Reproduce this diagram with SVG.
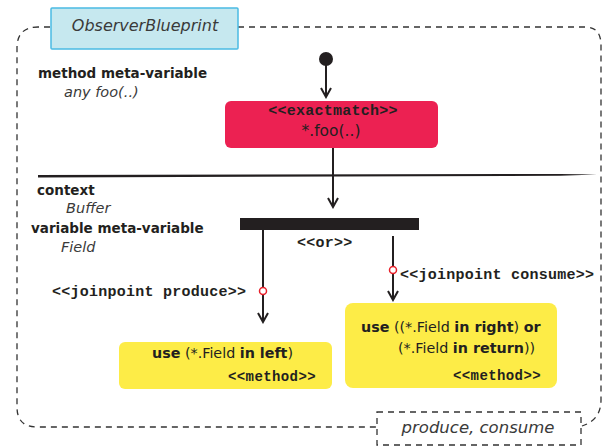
<svg xmlns="http://www.w3.org/2000/svg" width="604" height="447" viewBox="0 0 604 447">
<style>
.sans{font-family:"DejaVu Sans","Liberation Sans",sans-serif;fill:#231f20}
.b{font-weight:bold}
.it{font-style:italic;fill:#3a3a3a}
.mono{font-family:"Liberation Mono","Courier New",monospace;font-weight:bold;fill:#231f20;font-size:15px;letter-spacing:0.25px}
.mono.m{font-size:14px;letter-spacing:0.4px}
.dash{fill:none;stroke:#333;stroke-width:1.3;stroke-dasharray:6 5}
.edge{fill:none;stroke:#231f20;stroke-width:2}
.jp{fill:#fff;stroke:#e8202a;stroke-width:1.5}
</style>
<defs>
<marker id="arr" viewBox="0 0 12 12" refX="10" refY="6" markerWidth="12" markerHeight="12" markerUnits="userSpaceOnUse" orient="auto">
<path d="M1 1 L10 6 L1 11" fill="none" stroke="#231f20" stroke-width="2"/>
</marker>
</defs>
<rect width="604" height="447" fill="#fff"/>
<g id="frame">
<path class="dash" d="M50 27 L38 27 Q17 27 17 48 L17 407 Q17 427 37 427 L377 427"/>
<path class="dash" d="M238 27 L585 27 Q601 27 601 45 L601 400 Q601 420 582 426"/>
</g>
<g id="title">
<rect x="51" y="8" width="187" height="41" fill="#c6e8ef" stroke="#4bbbe3" stroke-width="1.5" rx="1"/>
<text class="sans it" x="145" y="31" font-size="16" text-anchor="middle">ObserverBlueprint</text>
</g>
<g id="labels">
<text class="sans b" x="38" y="78" font-size="13.5">method meta-variable</text>
<text class="sans it" x="64" y="97" font-size="14.5">any foo(..)</text>
<text class="sans b" x="37" y="195" font-size="13.5">context</text>
<text class="sans it" x="66" y="213" font-size="14.5">Buffer</text>
<text class="sans b" x="31" y="233" font-size="13.5">variable meta-variable</text>
<text class="sans it" x="61" y="252" font-size="14.5">Field</text>
</g>
<g id="separator">
<path d="M38 175 L560 174 L597 174.6 L560 175.8 L38 177.4 Z" fill="#231f20"/>
</g>
<g id="start">
<circle cx="326" cy="59" r="7" fill="#231f20"/>
</g>
<g id="exactmatch">
<rect x="225" y="101" width="213" height="47" rx="6" fill="#ec2152"/>
<text class="mono" x="333" y="114.5" text-anchor="middle">&lt;&lt;exactmatch&gt;&gt;</text>
<text class="sans" x="331" y="135.5" font-size="15.5" text-anchor="middle">*.foo(..)</text>
</g>
<g id="orbar">
<rect x="240" y="218" width="179" height="12" fill="#231f20"/>
<text class="mono" x="297" y="247">&lt;&lt;or&gt;&gt;</text>
</g>
<g id="useLeft">
<rect x="119" y="342" width="213" height="47" rx="6" fill="#fdec47"/>
<text class="sans" x="152" y="358" font-size="14.3"><tspan class="b">use</tspan> (*.Field <tspan class="b">in left</tspan>)</text>
<text class="mono m" x="316" y="381" text-anchor="end">&lt;&lt;method&gt;&gt;</text>
</g>
<g id="useRight">
<rect x="345" y="303" width="212" height="85" rx="8" fill="#fdec47"/>
<text class="sans" x="361" y="332" font-size="14.3"><tspan class="b">use</tspan> ((*.Field <tspan class="b">in right</tspan>) <tspan class="b">or</tspan></text>
<text class="sans" x="398" y="353" font-size="14.3">(*.Field <tspan class="b">in return</tspan>))</text>
<text class="mono m" x="541" y="380" text-anchor="end">&lt;&lt;method&gt;&gt;</text>
</g>
<g id="result">
<rect class="dash" x="377" y="412" width="204" height="33"/>
<text class="sans it" x="478" y="433" font-size="16.5" text-anchor="middle">produce, consume</text>
</g>
<g id="connectors">
<line class="edge" x1="326" y1="62" x2="326" y2="97" marker-end="url(#arr)"/>
<line class="edge" x1="333" y1="148" x2="333" y2="207" marker-end="url(#arr)"/>
<line class="edge" x1="263" y1="230" x2="263" y2="322" marker-end="url(#arr)"/>
<line class="edge" x1="393" y1="236" x2="393" y2="300" marker-end="url(#arr)"/>
<circle class="jp" cx="263" cy="291" r="3.5"/>
<circle class="jp" cx="393" cy="270" r="3.5"/>
<text class="mono" x="52" y="296">&lt;&lt;joinpoint produce&gt;&gt;</text>
<text class="mono" x="400" y="279">&lt;&lt;joinpoint consume&gt;&gt;</text>
</g>
</svg>
